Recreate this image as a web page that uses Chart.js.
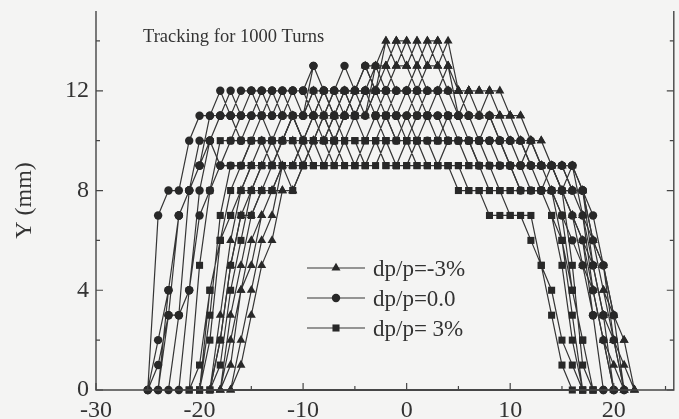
<!DOCTYPE html>
<html>
<head>
<meta charset="utf-8">
<script src="https://cdn.jsdelivr.net/npm/chart.js@4/dist/chart.umd.min.js"></script>
<style>
  html, body { margin: 0; padding: 0; background: #f4f4f3; overflow: hidden; }
  #wrap { width: 679px; height: 419px; position: relative; }
</style>
</head>
<body>
<div id="wrap"><canvas id="c"></canvas></div>
<script>
// ---- labels ----
const seriesLabels = ['dp/p=-3%', 'dp/p=0.0', 'dp/p= 3%'];
const chartTitle = 'Tracking for 1000 Turns';
const yAxisTitle = 'Y (mm)';
const xTickLabels = ['-30', '-20', '-10', '0', '10', '20'];
const yTickLabels = ['0', '4', '8', '12'];

// ---- dp/p = -3% (triangles): each seed = start x (mm) + Y (mm) for consecutive x ----
const negStarts = [-19, -18, -17, -18, -19, -17, -18];
const negSeed1 = [0,3,6,8,9, 10,10,11,11,11, 12,11,12,12,12, 12,13,14,13,14, 13,14,13,14,12, 12,12,12,12,11, 11,10,9,9,8, 8,8,6,4,3, 2,0];
const negSeed2 = [0,1,4,5,7, 8,8,8,9,10, 10,11,11,12,12, 12,13,14,13,14, 13,14,13,12,11, 11,11,11,10,10, 10,9,9,9,8, 7,5,3,2,0];
const negSeed3 = [0,2,4,6,7, 9,9,10,10,10, 11,11,11,12,12, 14,13,13,12,13, 13,12,12,12,11, 11,11,11,10,10, 9,8,8,7,6, 4,2,1,0];
const negSeed4 = [0,3,5,7,8, 9,10,10,10,11, 11,11,12,11,12, 13,13,12,12,13, 12,12,13,11,12, 12,12,11,11,11, 10,10,9,9,9, 8,6,4,2,1, 0];
const negSeed5 = [0,2,5,7,8, 9,9,10,11,10, 11,12,11,11,12, 13,12,13,14,13, 14,13,14,13,12, 12,11,12,11,11, 10,10,9,8,8, 7,6,5,3,2, 0];
const negSeed6 = [0,1,3,5,6, 8,8,9,10,11, 10,11,12,11,13, 13,14,14,13,14, 14,13,12,12,12, 12,11,11,10,10, 10,9,9,8,7, 6,5,3,2,0];
const negSeed7 = [0,2,4,6,7, 8,9,9,10,10, 10,11,11,11,11, 12,12,13,13,12, 13,13,12,12,12, 11,11,10,10,10, 9,9,8,8,7, 5,4,2,0];

// ---- dp/p = 0.0 (circles) ----
const zeroStarts = [-25, -24, -25, -23, -24, -25, -22];
const zeroSeed1 = [0,7,8,8,10, 11,11,12,11,11, 12,12,12,12,12, 12,13,12,12,13, 12,13,13,12,12, 12,12,12,12,12, 11,11,11,11,10, 10,10,9,9,9, 9,9,8,6,5, 3,0];
const zeroSeed2 = [0,3,3,8,9, 11,11,11,10,11, 11,12,11,11,11, 12,12,11,12,12, 12,11,11,11,11, 11,11,11,11,11, 10,10,10,10,9, 9,9,9,9,8, 8,8,5,3,0];
const zeroSeed3 = [0,2,4,7,8, 10,10,9,10,11, 11,11,11,12,11, 11,11,11,12,11, 11,11,12,12,11, 12,11,11,11,10, 10,10,10,10,9, 9,9,9,8,9, 9,9,7,4,2, 0];
const zeroSeed4 = [0,3,4,7,8, 9,9,9,10,10, 10,10,11,10,11, 10,10,11,11,12, 11,11,10,11,10, 10,10,10,10,10, 9,9,9,9,8, 8,8,8,7,6, 5,3,0];
const zeroSeed5 = [0,4,7,8,9, 10,11,12,11,12, 12,11,12,12,11, 13,12,11,11,12, 13,12,12,11,12, 12,11,12,11,11, 11,10,11,10,10, 10,9,9,9,8, 9,8,7,5,2, 0];
const zeroSeed6 = [0,1,3,7,8, 9,10,11,11,10, 11,12,11,11,12, 12,11,12,12,12, 11,12,11,12,11, 11,12,11,11,11, 11,11,10,10,10, 10,9,9,8,8, 8,7,6,3,0];
const zeroSeed7 = [0,4,8,10,11, 11,12,12,11,12, 11,12,12,11,12, 12,12,12,12,12, 11,12,12,11,12, 12,11,11,11,10, 11,10,10,9,10, 9,9,9,8,8, 5,3,0];

// ---- dp/p = 3% (squares) ----
const posStarts = [-21, -20, -19, -20, -20, -21, -19];
const posSeed1 = [0,5,8,10,10, 10,10,11,10,10, 11,10,10,11,10, 10,11,10,10,10, 10,10,10,10,10, 10,10,10,10,10, 10,9,9,9,9, 9,8,5,1,0];
const posSeed2 = [0,2,6,8,9, 9,9,10,9,9, 10,9,9,10,10, 10,9,10,9,9, 10,9,9,9,9, 9,9,9,8,8, 8,8,8,8,7, 6,4,2,0];
const posSeed3 = [0,2,5,7,7, 8,8,9,9,9, 9,9,9,9,9, 9,9,10,9,9, 9,9,9,9,8, 8,8,7,7,7, 7,7,5,4,2, 1,0];
const posSeed4 = [0,4,6,7,8, 8,8,8,9,9, 9,10,9,10,10, 11,10,10,11,10, 10,10,11,10,10, 10,9,9,9,8, 8,8,8,8,8, 6,3,0];
const posSeed5 = [0,3,7,9,9, 10,10,9,10,10, 9,10,10,9,10, 9,10,11,10,9, 9,10,10,9,10, 10,10,9,9,9, 9,8,8,8,7, 5,2,0];
const posSeed6 = [0,1,4,6,7, 8,9,9,9,10, 10,9,10,10,11, 10,10,10,11,11, 11,10,11,11,10, 11,10,10,10,9, 9,9,9,8,8, 8,7,4,2,0];
const posSeed7 = [0,1,4,6,8, 9,9,9,8,9, 9,9,10,9,9, 9,10,9,9,10, 10,9,9,9,9, 8,8,8,8,7, 7,6,5,3,1, 0];

function seedPoints(start, ys) { return ys.map((y, i) => ({ x: start + i, y: y })); }
function buildSeries(starts, seeds) {
  let pts = [];
  seeds.forEach((s, k) => { pts = pts.concat(seedPoints(starts[k], s)); });
  return pts;
}
const negData = buildSeries(negStarts, [negSeed1, negSeed2, negSeed3, negSeed4, negSeed5, negSeed6, negSeed7]);
const zeroData = buildSeries(zeroStarts, [zeroSeed1, zeroSeed2, zeroSeed3, zeroSeed4, zeroSeed5, zeroSeed6, zeroSeed7]);
const posData = buildSeries(posStarts, [posSeed1, posSeed2, posSeed3, posSeed4, posSeed5, posSeed6, posSeed7]);

const LINE = '#353535';
const MARK = '#282828';
const AXIS = '#454545';
const TEXT = '#333333';
const SERIF = '"Liberation Serif", "Times New Roman", serif';
const styles = [
  { style: 'triangle', r: 5.2 },
  { style: 'circle', r: 4.2 },
  { style: 'rect', r: 5 }
];

function drawMarker(ctx, style, r, x, y) {
  ctx.beginPath();
  if (style === 'circle') {
    ctx.arc(x, y, r, 0, Math.PI * 2);
  } else if (style === 'rect') {
    const s = Math.SQRT1_2 * r;
    ctx.rect(x - s, y - s, 2 * s, 2 * s);
  } else {
    let a = 0;
    ctx.moveTo(x + Math.sin(a) * r, y - Math.cos(a) * r);
    a += 2 * Math.PI / 3;
    ctx.lineTo(x + Math.sin(a) * r, y - Math.cos(a) * r);
    a += 2 * Math.PI / 3;
    ctx.lineTo(x + Math.sin(a) * r, y - Math.cos(a) * r);
    ctx.closePath();
  }
  ctx.fill();
}

const framePlugin = {
  id: 'frame',
  afterDraw(chart) {
    const ctx = chart.ctx;
    const xs = chart.scales.x, ys = chart.scales.y;
    const L = chart.chartArea.left, R = chart.chartArea.right, T = chart.chartArea.top, B = chart.chartArea.bottom;
    ctx.save();
    ctx.strokeStyle = AXIS;
    ctx.lineWidth = 1.4;
    ctx.beginPath();
    ctx.moveTo(L, T); ctx.lineTo(L, B); ctx.lineTo(R, B); ctx.lineTo(R, T);
    ctx.stroke();
    ctx.lineWidth = 1.2;
    ctx.beginPath();
    xs.ticks.forEach(t => {
      const px = xs.getPixelForValue(t.value);
      const len = (Math.round(t.value) % 10 === 0) ? 7 : 4;
      ctx.moveTo(px, B); ctx.lineTo(px, B - len);
    });
    ys.ticks.forEach(t => {
      const py = ys.getPixelForValue(t.value);
      const len = (Math.round(t.value) % 4 === 0) ? 7 : 4;
      ctx.moveTo(L, py); ctx.lineTo(L + len, py);
      ctx.moveTo(R, py); ctx.lineTo(R - len, py);
    });
    ctx.stroke();

    // title inside plot
    ctx.fillStyle = TEXT;
    ctx.font = '18.5px ' + SERIF;
    ctx.textAlign = 'left';
    ctx.textBaseline = 'alphabetic';
    ctx.fillText(chartTitle, 143, 41.5);

    // legend inside plot
    ctx.font = '23px ' + SERIF;
    ctx.textBaseline = 'middle';
    seriesLabels.forEach((lab, i) => {
      const y = 268 + i * 30;
      ctx.strokeStyle = LINE;
      ctx.lineWidth = 1.2;
      ctx.beginPath();
      ctx.moveTo(307, y); ctx.lineTo(365, y);
      ctx.stroke();
      ctx.fillStyle = MARK;
      drawMarker(ctx, styles[i].style, styles[i].r, 336, y);
      ctx.fillStyle = TEXT;
      ctx.fillText(lab, 373, y + 2);
    });
    ctx.restore();
  }
};

const datasets = [negData, zeroData, posData].map((d, i) => ({
  label: seriesLabels[i],
  data: d,
  showLine: true,
  borderColor: LINE,
  borderWidth: 1.2,
  backgroundColor: MARK,
  pointBackgroundColor: MARK,
  pointBorderColor: MARK,
  pointBorderWidth: 0,
  pointStyle: styles[i].style,
  pointRadius: styles[i].r,
  tension: 0,
  clip: false
}));

new Chart(document.getElementById('c'), {
  type: 'scatter',
  data: { datasets: datasets },
  options: {
    responsive: true,
    maintainAspectRatio: false,
    animation: false,
    events: [],
    layout: { padding: { top: 11, right: 3, left: 0, bottom: 0 } },
    plugins: { legend: { display: false }, tooltip: { enabled: false }, title: { display: false } },
    scales: {
      x: {
        type: 'linear', min: -30, max: 25.8,
        border: { display: false },
        grid: { display: false, drawTicks: false },
        ticks: {
          stepSize: 5, includeBounds: false, autoSkip: false, maxRotation: 0, padding: 6,
          color: TEXT, font: { family: SERIF, size: 24 },
          callback: v => { const k = xTickLabels.indexOf(String(v)); return k >= 0 ? xTickLabels[k] : ''; }
        },
        afterFit: s => { s.height = 29; s.paddingLeft = 0; s.paddingRight = 0; }
      },
      y: {
        type: 'linear', min: 0, max: 15.2,
        border: { display: false },
        grid: { display: false, drawTicks: false },
        title: { display: true, text: yAxisTitle, color: TEXT, font: { family: SERIF, size: 24 }, padding: { top: 10, bottom: 0 } },
        ticks: {
          stepSize: 2, includeBounds: false, autoSkip: false, padding: 7,
          color: TEXT, font: { family: SERIF, size: 24 },
          callback: v => { const k = yTickLabels.indexOf(String(v)); return k >= 0 ? yTickLabels[k] : ''; }
        },
        afterFit: s => { s.width = 96; s.paddingTop = 0; s.paddingBottom = 0; }
      }
    }
  },
  plugins: [framePlugin]
});
</script>
</body>
</html>
